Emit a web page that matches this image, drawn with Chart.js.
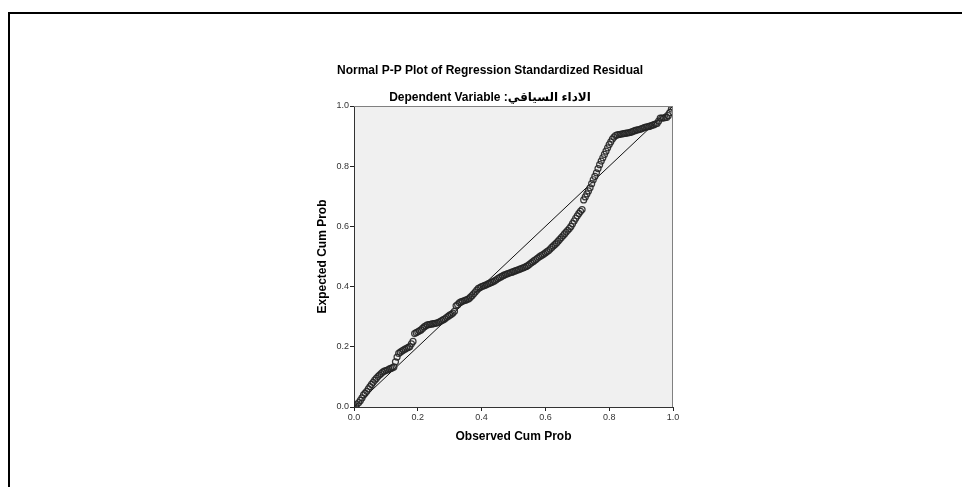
<!DOCTYPE html>
<html>
<head>
<meta charset="utf-8">
<script src="https://cdn.jsdelivr.net/npm/chart.js@4"></script>
<style>
  html, body { margin: 0; padding: 0; background: #fff; }
  #wrap { width: 962px; height: 487px; position: relative; }
</style>
</head>
<body>
<div id="wrap"><canvas id="c" width="962" height="487"></canvas></div>
<script>
// ---- Data ----
const titleText = "Normal P-P Plot of Regression Standardized Residual";
const subtitleText = "Dependent Variable :الاداء السياقي";
const xAxisTitle = "Observed Cum Prob";
const yAxisTitle = "Expected Cum Prob";
const tickValues = [0.0, 0.2, 0.4, 0.6, 0.8, 1.0];

const observedCumProb = [
  0.000,0.005,0.010,0.015,0.020,0.025,0.030,0.035,0.040,0.045,
  0.050,0.055,0.060,0.065,0.070,0.075,0.080,0.085,0.090,0.095,
  0.100,0.105,0.110,0.115,0.120,0.125,0.130,0.135,0.140,0.145,
  0.150,0.155,0.160,0.165,0.170,0.175,0.180,0.185,0.190,0.195,
  0.200,0.205,0.210,0.215,0.220,0.225,0.230,0.235,0.240,0.245,
  0.250,0.255,0.260,0.265,0.270,0.275,0.280,0.285,0.290,0.295,
  0.300,0.305,0.310,0.315,0.320,0.325,0.330,0.335,0.340,0.345,
  0.350,0.355,0.360,0.365,0.370,0.375,0.380,0.385,0.390,0.395,
  0.400,0.405,0.410,0.415,0.420,0.425,0.430,0.435,0.440,0.445,
  0.450,0.455,0.460,0.465,0.470,0.475,0.480,0.485,0.490,0.495,
  0.500,0.505,0.510,0.515,0.520,0.525,0.530,0.535,0.540,0.545,
  0.550,0.555,0.560,0.565,0.570,0.575,0.580,0.585,0.590,0.595,
  0.600,0.605,0.610,0.615,0.620,0.625,0.630,0.635,0.640,0.645,
  0.650,0.655,0.660,0.665,0.670,0.675,0.680,0.685,0.690,0.695,
  0.700,0.705,0.710,0.715,0.720,0.725,0.730,0.735,0.740,0.745,
  0.750,0.755,0.760,0.765,0.770,0.775,0.780,0.785,0.790,0.795,
  0.800,0.805,0.810,0.815,0.820,0.825,0.830,0.835,0.840,0.845,
  0.850,0.855,0.860,0.865,0.870,0.875,0.880,0.885,0.890,0.895,
  0.900,0.905,0.910,0.915,0.920,0.925,0.930,0.935,0.940,0.945,
  0.950,0.955,0.960,0.965,0.970,0.975,0.980,0.985,0.990,0.995,1.000
];
const expectedCumProb = [
  0.000,0.004,0.010,0.015,0.022,0.030,0.040,0.046,0.052,0.060,
  0.068,0.075,0.082,0.089,0.095,0.101,0.106,0.111,0.116,0.119,
  0.121,0.123,0.126,0.128,0.130,0.133,0.150,0.166,0.178,0.182,
  0.186,0.189,0.192,0.195,0.198,0.201,0.210,0.218,0.244,0.247,
  0.250,0.253,0.256,0.261,0.266,0.270,0.273,0.274,0.275,0.276,
  0.277,0.278,0.279,0.281,0.284,0.287,0.290,0.293,0.297,0.301,
  0.305,0.308,0.312,0.318,0.336,0.340,0.346,0.349,0.351,0.353,
  0.355,0.357,0.360,0.365,0.370,0.376,0.382,0.388,0.394,0.397,
  0.400,0.402,0.404,0.406,0.409,0.411,0.414,0.416,0.419,0.422,
  0.426,0.429,0.432,0.435,0.438,0.440,0.442,0.444,0.446,0.448,
  0.450,0.452,0.454,0.456,0.458,0.460,0.462,0.464,0.467,0.470,
  0.474,0.478,0.482,0.486,0.490,0.494,0.498,0.502,0.505,0.508,
  0.512,0.516,0.520,0.525,0.530,0.535,0.540,0.545,0.551,0.557,
  0.563,0.569,0.575,0.581,0.587,0.593,0.600,0.609,0.618,0.627,
  0.635,0.643,0.650,0.656,0.688,0.698,0.708,0.718,0.728,0.742,
  0.755,0.766,0.778,0.792,0.805,0.817,0.828,0.839,0.850,0.861,
  0.872,0.881,0.890,0.897,0.902,0.904,0.905,0.906,0.907,0.908,
  0.909,0.910,0.911,0.912,0.914,0.916,0.918,0.920,0.921,0.922,
  0.924,0.926,0.928,0.930,0.931,0.932,0.934,0.936,0.938,0.940,
  0.942,0.950,0.960,0.960,0.960,0.961,0.962,0.968,0.978,0.990,0.997
];
const refLineX = [0, 1];
const refLineY = [0, 1];

// ---- Build datasets from arrays ----
const points = observedCumProb.map((x, i) => ({ x: x, y: expectedCumProb[i] }));
const refLine = refLineX.map((x, i) => ({ x: x, y: refLineY[i] }));

const FONT = "'Liberation Sans', Arial, 'DejaVu Sans', sans-serif";

const framePlugin = {
  id: 'frame',
  beforeDraw(chart) {
    const { ctx, chartArea: a } = chart;
    ctx.save();
    ctx.fillStyle = '#ffffff';
    ctx.fillRect(0, 0, chart.width, chart.height);
    // outer page frame
    ctx.fillStyle = '#000';
    ctx.fillRect(8, 12, chart.width - 8, 2);
    ctx.fillRect(8, 12, 2, chart.height - 12);
    // plot background
    ctx.fillStyle = '#f0f0f0';
    ctx.fillRect(a.left, a.top, a.right - a.left, a.bottom - a.top);
    ctx.restore();
  },
  afterDatasetsDraw(chart) {
    const { ctx, chartArea: a } = chart;
    ctx.save();
    ctx.strokeStyle = '#808080';
    ctx.lineWidth = 1;
    ctx.beginPath();
    ctx.moveTo(a.left, Math.round(a.top) + 0.5);
    ctx.lineTo(a.right, Math.round(a.top) + 0.5);
    ctx.moveTo(Math.round(a.right) - 0.5, a.top);
    ctx.lineTo(Math.round(a.right) - 0.5, a.bottom);
    ctx.stroke();
    ctx.restore();
  }
};

const axisCommon = {
  type: 'linear',
  min: 0,
  max: 1,
  afterBuildTicks(scale) { scale.ticks = tickValues.map(v => ({ value: v })); },
  ticks: {
    callback: v => Number(v).toFixed(1),
    color: '#333',
    font: { family: FONT, size: 9 },
    padding: 1,
  },
  grid: {
    display: true,
    drawOnChartArea: false,
    drawTicks: true,
    tickLength: 4,
    color: '#222',
    lineWidth: 1,
  },
  border: { display: true, color: '#333', width: 1 },
};

new Chart(document.getElementById('c'), {
  type: 'scatter',
  data: {
    datasets: [
      {
        type: 'line',
        data: refLine,
        borderColor: '#111',
        borderWidth: 1,
        pointRadius: 0,
        fill: false,
        order: 2,
      },
      {
        type: 'scatter',
        data: points,
        pointStyle: 'circle',
        pointRadius: 3,
        borderColor: 'rgba(35,35,35,0.9)',
        borderWidth: 1.2,
        backgroundColor: 'rgba(0,0,0,0)',
        order: 1,
      }
    ]
  },
  options: {
    responsive: false,
    animation: false,
    devicePixelRatio: 1,
    layout: { padding: { left: 307, right: 289, top: 50, bottom: 40 } },
    plugins: {
      legend: { display: false },
      tooltip: { enabled: false },
      title: {
        display: true,
        text: titleText,
        color: '#000',
        font: { family: FONT, size: 12, weight: 'bold' },
        padding: { top: 13.8, bottom: 5 },
      },
      subtitle: {
        display: true,
        text: subtitleText,
        color: '#000',
        font: { family: FONT, size: 12, weight: 'bold' },
        padding: { top: 7.3, bottom: 1.1 },
      }
    },
    scales: {
      x: Object.assign({}, axisCommon, {
        position: 'bottom',
        afterFit(scale) { scale.height = 40; },
        title: {
          display: true, text: xAxisTitle, color: '#000',
          font: { family: FONT, size: 12, weight: 'bold' },
          padding: { top: 0, bottom: 3 },
        },
      }),
      y: Object.assign({}, axisCommon, {
        position: 'left',
        afterFit(scale) { scale.width = 47; },
        title: {
          display: true, text: yAxisTitle, color: '#000',
          font: { family: FONT, size: 12, weight: 'bold' },
          padding: { top: 8.5, bottom: 0 },
        },
      }),
    }
  },
  plugins: [framePlugin]
});
</script>
</body>
</html>
